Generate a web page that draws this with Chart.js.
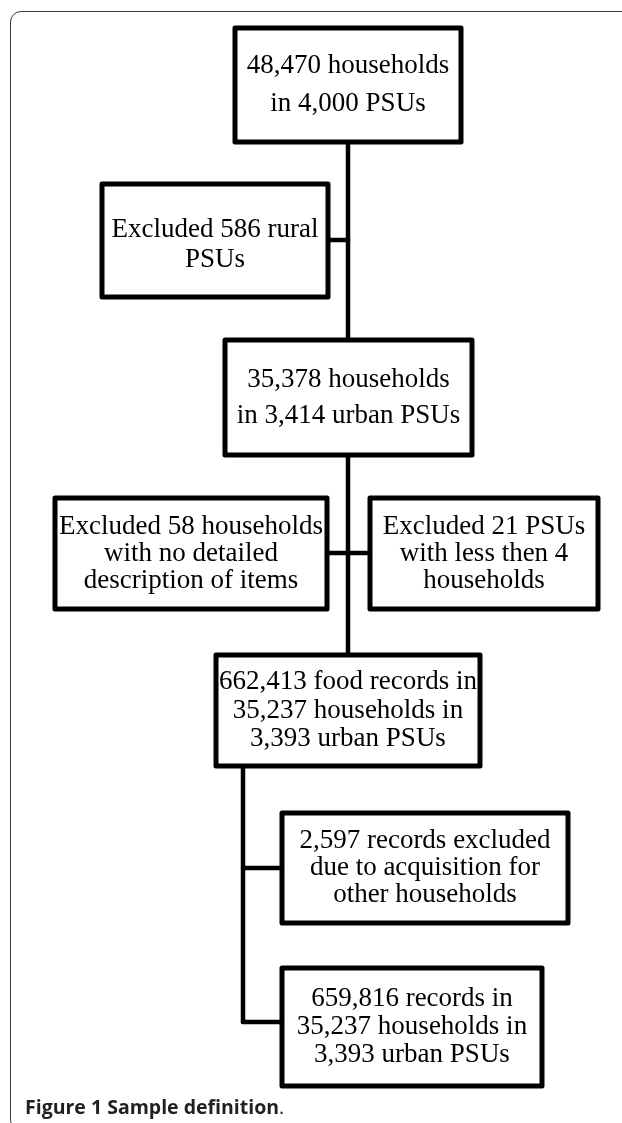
<!DOCTYPE html>
<html>
<head>
<meta charset="utf-8">
<title>Figure 1 Sample definition</title>
<script src="https://cdn.jsdelivr.net/npm/chart.js@4/dist/chart.umd.min.js"></script>
<style>
    body { margin: 0; background: #fff; }
    #wrap { position: relative; width: 622px; height: 1123px; overflow: hidden; }
    #frame { position: absolute; left: 10px; top: 11px; width: 700px; height: 1118px; border: 1.6px solid #3b3b3b; border-radius: 11px; }
    #flow { position: absolute; left: 0; top: 0; }
    #caption { position: absolute; left: 25px; top: 1097px; font: 700 19.5px/20px "Open Sans", sans-serif; color: #231f20; white-space: nowrap; }
    #caption span { font-weight: 400; }
</style>
</head>
<body>
<div id="wrap">
    <div id="frame"></div>
    <canvas id="flow" width="622" height="1123"></canvas>
    <div id="caption">Figure 1 Sample definition<span>.</span></div>
</div>
<script>
"use strict"

/*-----------------------------Data-------------------------------------------*/

let stepNames = ["all", "rural", "urban", "noDetail", "fewHouseholds", "foodRecords", "otherAcquisition", "final"]; //steg i flödet

let stepTexts = [ //texten i varje ruta, rad för rad
    ["48,470 households", "in 4,000 PSUs"],
    ["Excluded 586 rural", "PSUs"],
    ["35,378 households", "in 3,414 urban PSUs"],
    ["Excluded 58 households", "with no detailed", "description of items"],
    ["Excluded 21 PSUs", "with less then 4", "households"],
    ["662,413 food records in", "35,237 households in", "3,393 urban PSUs"],
    ["2,597 records excluded", "due to acquisition for", "other households"],
    ["659,816 records in", "35,237 households in", "3,393 urban PSUs"]
];

/*-----------------------------Layout (pixlar i bilden)-------------------------*/

let boxLeft = [235, 102, 225, 55, 370, 216, 282, 282];
let boxRight = [461, 328, 472, 327, 598, 480, 568, 542];
let boxTop = [28, 184, 340, 498, 498, 655, 813, 968];
let boxBottom = [142, 297, 455, 609, 609, 766, 923, 1086];
let lineGap = [38, 30, 36, 27, 27, 28.5, 27, 28]; //radavstånd i varje ruta
let textShift = [0, 4, 0, 0, 0, 0, 0, 0]; //liten förskjutning nedåt

let links = [ //kopplingslinjer [x1, y1, x2, y2]
    [348, 142, 348, 340],
    [328, 240, 348, 240],
    [348, 455, 348, 655],
    [327, 553, 370, 553],
    [243, 766, 243, 1022],
    [243, 868, 282, 868],
    [243, 1022, 282, 1022]
];

/*-----------------------------Datasets-------------------------------------------*/

let datasets = [];

for (let i = 0; i < stepNames.length; i++) { //en sluten linje per ruta
    datasets.push({
        label: stepNames[i],
        data: [
            { x: boxLeft[i], y: boxTop[i] },
            { x: boxRight[i], y: boxTop[i] },
            { x: boxRight[i], y: boxBottom[i] },
            { x: boxLeft[i], y: boxBottom[i] },
            { x: boxLeft[i], y: boxTop[i] }
        ],
        borderWidth: 5
    });
}

for (let i = 0; i < links.length; i++) { //linjerna mellan rutorna
    datasets.push({
        label: "link" + i,
        data: [
            { x: links[i][0], y: links[i][1] },
            { x: links[i][2], y: links[i][3] }
        ],
        borderWidth: 4.5
    });
}

/*-----------------------------Text i rutorna-------------------------------------*/

let boxLabels = {
    id: "boxLabels",
    afterDatasetsDraw(chart) {
        let ctx = chart.ctx;
        let xScale = chart.scales.x;
        let yScale = chart.scales.y;

        ctx.save();
        ctx.font = "27px 'Liberation Serif'";
        ctx.fillStyle = "#000";
        ctx.textAlign = "center";
        ctx.textBaseline = "middle";

        for (let i = 0; i < stepTexts.length; i++) {
            let cx = xScale.getPixelForValue((boxLeft[i] + boxRight[i]) / 2);
            let cy = yScale.getPixelForValue((boxTop[i] + boxBottom[i]) / 2 + textShift[i]);
            let rows = stepTexts[i];

            for (let k = 0; k < rows.length; k++) {
                ctx.fillText(rows[k], cx, cy + (k - (rows.length - 1) / 2) * lineGap[i]);
            }
        }
        ctx.restore();
    }
};

let flowCanvas = document.getElementById("flow");

new Chart(flowCanvas, {
    type: "scatter",
    data: { datasets: datasets },
    options: {
        responsive: false,
        animation: false,
        showLine: true,
        clip: false,
        layout: { padding: 0 },
        elements: {
            point: { radius: 0, hoverRadius: 0 },
            line: {
                borderColor: "#000",
                backgroundColor: "#000",
                tension: 0,
                fill: false,
                borderJoinStyle: "round",
                borderCapStyle: "round"
            }
        },
        scales: {
            x: { type: "linear", min: 0, max: 622, display: false },
            y: { type: "linear", min: 0, max: 1123, reverse: true, display: false }
        },
        plugins: {
            legend: { display: false },
            tooltip: { enabled: false }
        }
    },
    plugins: [boxLabels]
});
</script>
</body>
</html>
